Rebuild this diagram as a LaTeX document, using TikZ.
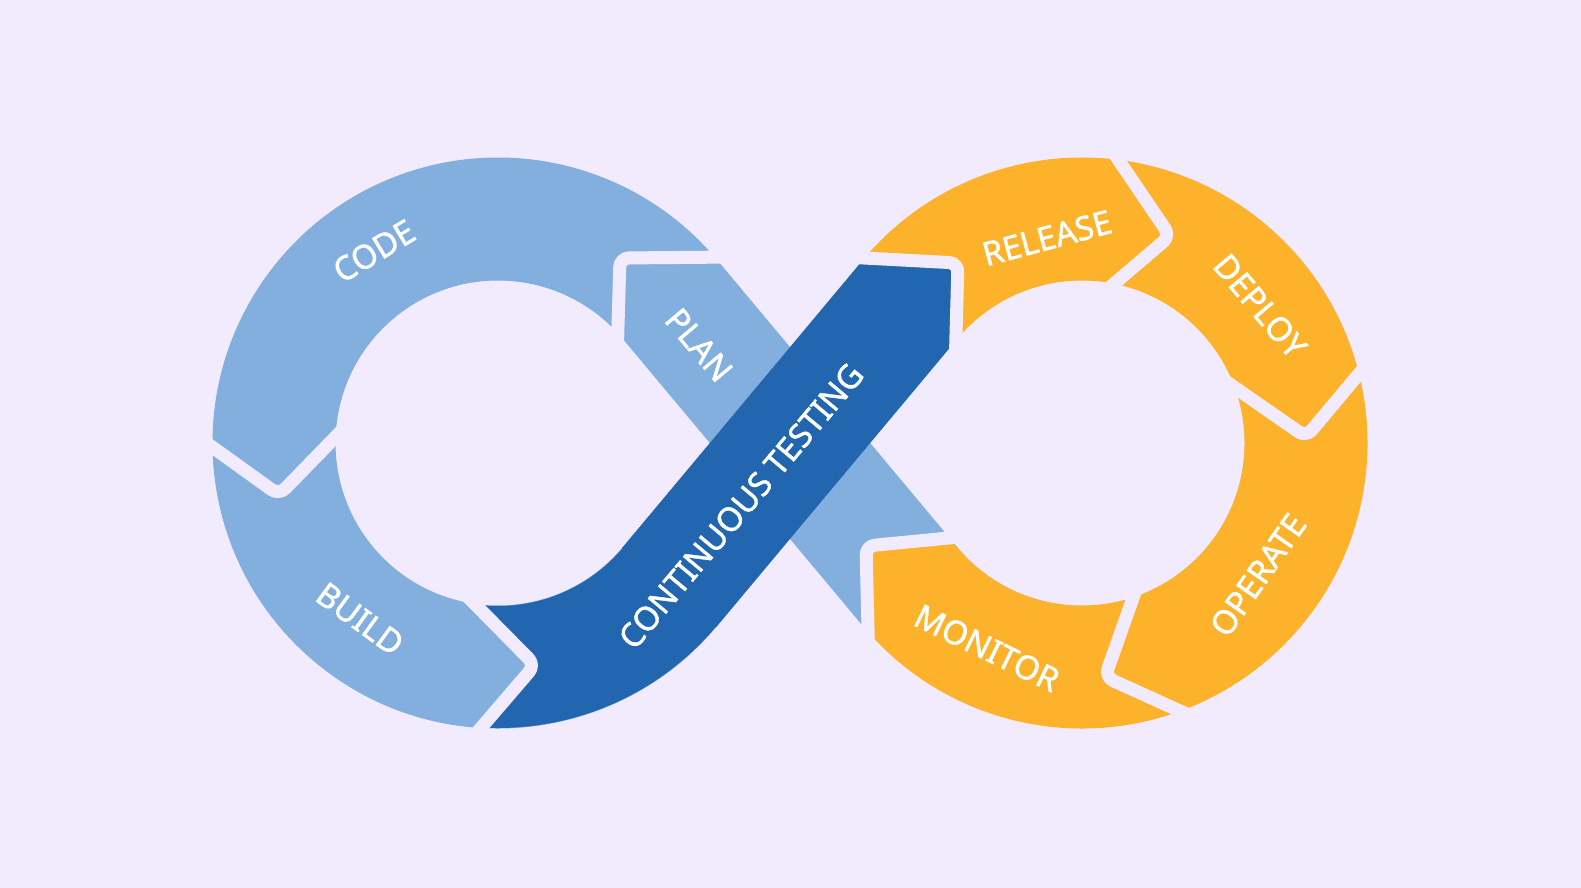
\documentclass[tikz,border=0pt]{standalone}
\usepackage{fontspec}
\setmainfont{Noto Sans}
\newfontfamily\labfont{Noto Sans}[FakeBold=1.3]
\usetikzlibrary{calc}
\definecolor{bgcol}{RGB}{242,235,254}
\definecolor{lightblue}{RGB}{130,175,221}
\definecolor{darkblue}{RGB}{35,102,176}
\definecolor{amber}{RGB}{253,178,44}
\tikzset{
  sepline/.style={draw=bgcol, line width=13, line join=round, line cap=round, rounded corners=9},
  lab/.style={text=white, font=\labfont\fontsize{33}{40}\selectfont, inner sep=0}
}
\begin{document}
\begin{tikzpicture}[x=1pt,y=-1pt]
\useasboundingbox (0,0) rectangle (1581,888);
\fill[bgcol] (0,0) rectangle (1581,888);
\coordinate (L) at (498,443);
\coordinate (R) at (1082,443);
% left ring and plan band
\filldraw[lightblue, line width=1] ($(L)+(40:285)$) arc[start angle=40, end angle=320, radius=285] -- ($(L)+(320:163)$) arc[start angle=320, end angle=40, radius=163] -- cycle;
\filldraw[lightblue, line width=1] ($(L)+(320:285)$) -- ($(R)+(140:163)$) -- ($(R)+(140:285)$) -- ($(L)+(320:163)$) -- cycle;
% right ring
\filldraw[amber, line width=1] ($(R)+(-140:285)$) arc[start angle=-140, end angle=140, radius=285] -- ($(R)+(140:163)$) arc[start angle=140, end angle=-140, radius=163] -- cycle;
\begin{scope}
\clip ($(L)+(320:285)$) -- ($(R)+(140:163)$) -- ($(R)+(140:285)$) -- ($(L)+(320:163)$) -- cycle;
\fill[amber] (990,534) -- (866,546) -- (869,700) -- (990,700) -- cycle;
\end{scope}
% continuous testing band
\begin{scope}
\clip ($(L)+(40:285)$) arc[start angle=40, end angle=320, radius=285] -- ($(L)+(320:163)$) arc[start angle=320, end angle=40, radius=163] -- cycle;
\fill[darkblue] (461,540) -- (461,590) -- (535,665) -- (468,743) -- (770,770) -- (770,540) -- cycle;
\end{scope}
\filldraw[darkblue, line width=1] ($(L)+(40:285)$) -- ($(R)+(220:163)$) -- ($(R)+(220:285)$) -- ($(L)+(40:163)$) -- cycle;
\begin{scope}
\clip ($(R)+(-140:285)$) arc[start angle=-140, end angle=140, radius=285] -- ($(R)+(140:163)$) arc[start angle=140, end angle=-140, radius=163] -- cycle;
\fill[darkblue] (845,257) -- (958,263) -- (955,380) -- (830,380) -- cycle;
\end{scope}
% gaps between the stages
\draw[sepline] (1107,143) -- (1170,236) -- (1102,294);
\draw[sepline] (1373,357) -- (1306,437) -- (1224,380);
\draw[sepline] (1139,581) -- (1105,677) -- (1202,721);
\draw[sepline] (990,534) -- (866,546) -- (869,670);
\draw[sepline] (735,257) -- (620,258) -- (617,360);
\draw[sepline] (197,436) -- (279,495) -- (350,422);
\draw[sepline] (461,590) -- (535,665) -- (468,743);
\draw[sepline] (845,257) -- (958,263) -- (955,370);
% labels
\node[lab, rotate=31] (code) at (374,251) {CODE};
\node[lab, rotate=-36] (build) at (360,619) {BUILD};
\node[lab, rotate=-50] (plan) at (699,345) {PLAN};
\node[lab, rotate=50] (test) at (741,506) {CONTINUOUS TESTING};
\node[lab, rotate=15] (release) at (1047,238) {RELEASE};
\node[lab, rotate=-50] (deploy) at (1260,306) {DEPLOY};
\node[lab, rotate=55] (operate) at (1258,575) {OPERATE};
\node[lab, rotate=-26] (monitor) at (987,648) {MONITOR};
\end{tikzpicture}
\end{document}
